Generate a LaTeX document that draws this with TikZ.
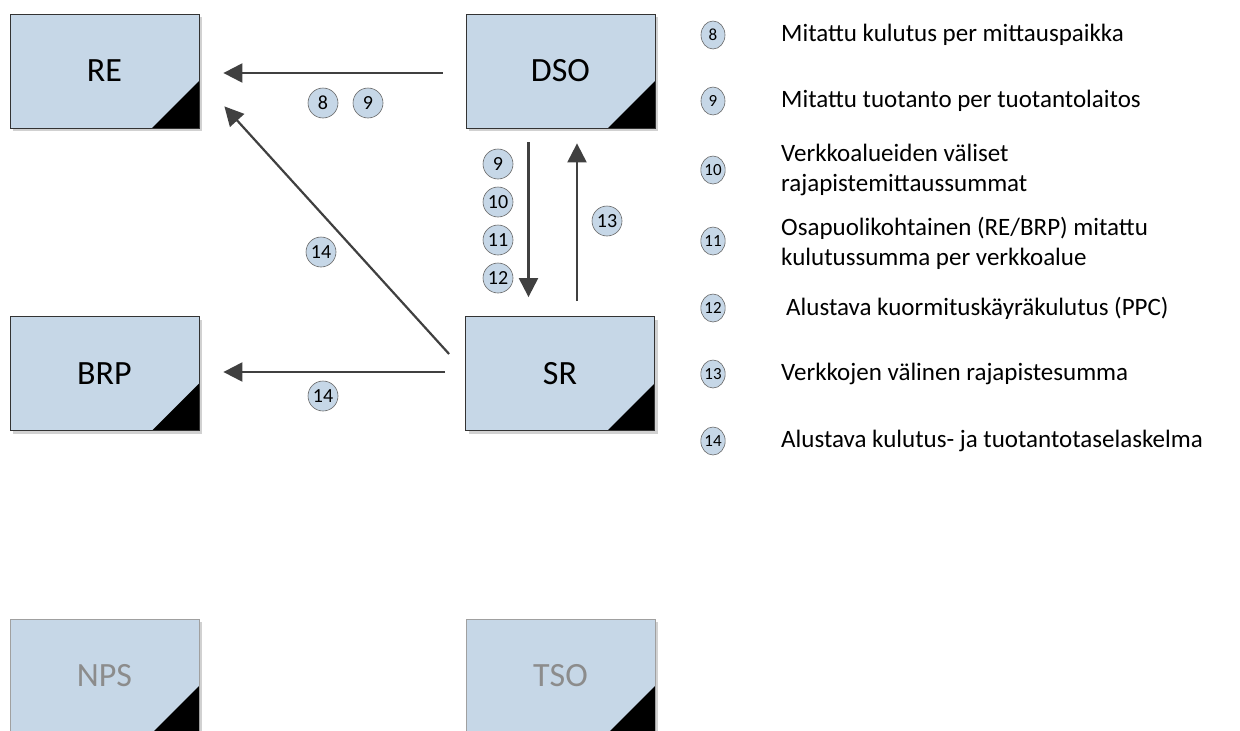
\documentclass[tikz,border=0pt]{standalone}
\usepackage{fontspec}
\setmainfont{Carlito}
\usetikzlibrary{arrows.meta,shapes.geometric,shadows}

\definecolor{boxblue}{RGB}{198,215,231}
\definecolor{arrowgray}{RGB}{64,64,64}
\definecolor{dimgraytext}{RGB}{140,140,140}
\definecolor{dimborder}{RGB}{160,160,160}

\tikzset{
  cornermark/.style={path picture={
      \fill[black] ([yshift=47pt]path picture bounding box.south east)
        -- (path picture bounding box.south east)
        -- ([xshift=-47pt]path picture bounding box.south east) -- cycle;}},
  party/.style={rectangle, draw=black!80, line width=0.8pt, fill=boxblue,
    minimum width=189pt, minimum height=114pt, inner sep=0pt,
    font=\fontsize{34}{40}\selectfont,
    drop shadow={shadow xshift=3pt, shadow yshift=-3pt, fill=black!18, opacity=1},
    cornermark},
  idleparty/.style={party, draw=dimborder, text=dimgraytext},
  arr/.style={draw=arrowgray, line width=2.2pt,
    -{Triangle[length=19pt,width=19pt]}},
  num/.style={circle, draw=black!60, line width=0.6pt, fill=boxblue,
    minimum size=30pt, inner sep=0pt, font=\fontsize{20}{22}\selectfont},
  keynum/.style={ellipse, draw=black!60, line width=0.6pt, fill=boxblue,
    minimum width=24pt, minimum height=28pt, inner sep=0pt,
    font=\fontsize{17}{18}\selectfont},
  keytext/.style={anchor=west, align=left, inner sep=0pt,
    font=\fontsize{25}{30}\selectfont},
}

\begin{document}
\begin{tikzpicture}[x=1pt, y=-1pt]
  \useasboundingbox (0,0) rectangle (1240,731);
  \clip (0,0) rectangle (1240,731);

  % parties
  \node[party] (RE)  at (104.5,71)    {RE};
  \node[party] (DSO) at (560.5,71)    {DSO};
  \node[party] (BRP) at (104.5,373.5) {BRP};
  \node[party] (SR)  at (560,373.5)   {SR};
  \node[idleparty] (NPS) at (104.5,676) {NPS};
  \node[idleparty] (TSO) at (560.5,676) {TSO};

  % data flows
  \draw[arr] ([xshift=-23pt,yshift=-2pt]DSO.west) -- ([xshift=24pt,yshift=-2pt]RE.east);
  \draw[arr] ([xshift=-32pt,yshift=-14pt]DSO.south) -- ([xshift=-31.5pt,yshift=19pt]SR.north);
  \draw[arr] ([xshift=17pt,yshift=15pt]SR.north) -- ([xshift=16.5pt,yshift=-15pt]DSO.south);
  \draw[arr] ([xshift=-16pt,yshift=19.5pt]SR.west) -- ([xshift=25pt,yshift=22pt]RE.south east);
  \draw[arr] ([xshift=-20pt,yshift=1.5pt]SR.west) -- ([xshift=24pt,yshift=1.5pt]BRP.east);

  % flow labels
  \node[num] (f8)   at (323,103) {8};
  \node[num] (f9)   at (368,103) {9};
  \node[num] (f9b)  at (498,164) {9};
  \node[num] (f10)  at (498,202) {10};
  \node[num] (f11)  at (498,240) {11};
  \node[num] (f12)  at (498,278) {12};
  \node[num] (f13)  at (607,221) {13};
  \node[num] (f14a) at (321,252) {14};
  \node[num] (f14b) at (323,396) {14};

  % legend
  \node[keynum] (k8)  at (713,35)  {8};
  \node[keynum] (k9)  at (713,101) {9};
  \node[keynum] (k10) at (713,170) {10};
  \node[keynum] (k11) at (713,241) {11};
  \node[keynum] (k12) at (713,308) {12};
  \node[keynum] (k13) at (713,374) {13};
  \node[keynum] (k14) at (713,441) {14};

  \node[keytext] (t8)  at (781,35)  {Mitattu kulutus per mittauspaikka};
  \node[keytext] (t9)  at (781,101) {Mitattu tuotanto per tuotantolaitos};
  \node[keytext] (t10) at (781,170) {Verkkoalueiden väliset\\rajapistemittaussummat};
  \node[keytext] (t11) at (781,243) {Osapuolikohtainen (RE/BRP) mitattu\\kulutussumma per verkkoalue};
  \node[keytext] (t12) at (786,308) {Alustava kuormituskäyräkulutus (PPC)};
  \node[keytext] (t13) at (781,374) {Verkkojen välinen rajapistesumma};
  \node[keytext] (t14) at (781,441) {Alustava kulutus- ja tuotantotaselaskelma};
\end{tikzpicture}
\end{document}
